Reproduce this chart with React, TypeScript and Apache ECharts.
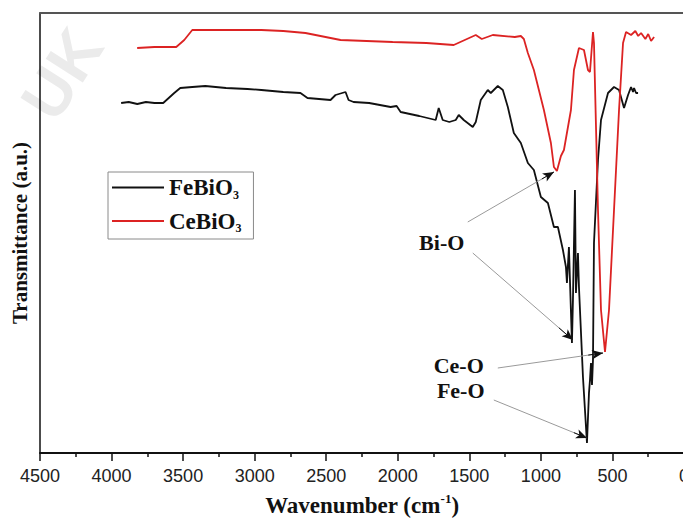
import React, { useEffect, useRef } from "react";
import * as echarts from "echarts";

// Wavenumber (cm-1) and transmittance (a.u.)
const feWavenumber = [3933, 3880, 3820, 3760, 3700, 3639, 3562, 3520, 3436, 3345, 3200, 3050, 2953, 2800, 2680, 2631, 2470, 2435, 2365, 2344, 2309, 2200, 2050, 2008, 1980, 1850, 1735, 1714, 1686, 1640, 1595, 1574, 1539, 1476, 1455, 1420, 1371, 1350, 1301, 1266, 1231, 1189, 1140, 1091, 1049, 1000, 951, 909, 881, 846, 825, 818, 804, 797, 783, 776, 762, 755, 741, 734, 706, 678, 664, 657, 650, 643, 636, 629, 601, 580, 531, 489, 454, 419, 391, 370, 356, 349, 335, 321];
const feTransmittance = [350, 351, 349, 351, 350, 350, 360, 365, 366, 367, 365, 364, 363, 361, 360, 355, 353, 358, 361, 353, 351, 350, 346, 347, 341, 337, 333, 345, 333, 331, 333, 338, 333, 326, 331, 353, 363, 360, 367, 363, 346, 320, 310, 290, 283, 256, 250, 226, 226, 203, 186, 170, 206, 173, 110, 153, 263, 160, 200, 166, 76, 10, 60, 73, 90, 68, 93, 210, 293, 333, 360, 366, 363, 345, 358, 366, 361, 365, 360, 360];

const ceWavenumber = [3821, 3700, 3548, 3492, 3436, 3200, 2953, 2800, 2645, 2400, 2036, 1800, 1609, 1455, 1413, 1336, 1182, 1140, 1119, 1091, 1049, 979, 930, 909, 888, 860, 839, 790, 769, 734, 699, 671, 657, 636, 629, 601, 580, 552, 524, 489, 454, 426, 405, 370, 340, 320, 300, 270, 250, 230, 209];
const ceTransmittance = [405, 406, 406, 413, 423, 423, 423, 422, 420, 413, 411, 410, 408, 418, 414, 418, 416, 417, 414, 400, 383, 343, 310, 286, 282, 297, 303, 343, 383, 405, 403, 383, 381, 421, 410, 243, 143, 101, 143, 243, 343, 410, 421, 418, 422, 417, 420, 414, 419, 412, 416];

const xTicks = { min: 0, max: 4500, interval: 500 };

// Annotations: label, label position, arrow start, arrow tip (wavenumber, a.u.)
const annotLabels = ["Bi-O", "Ce-O", "Fe-O"];
const annotLabelAt = [[1693, 211], [1574, 88], [1560, 63]];
const arrowFrom = [[1511, 231], [1476, 200], [1301, 85], [1329, 53]];
const arrowTo = [[909, 281], [776, 113], [566, 100], [678, 15]];

const SERIF = "'Liberation Serif', 'DejaVu Serif', serif";
const SANS = "'Liberation Sans', Arial, sans-serif";

export default function App() {
  const ref = useRef<HTMLDivElement>(null);
  useEffect(() => {
    if (!ref.current) return;
    const chart = echarts.init(ref.current, undefined, { renderer: "svg" });
    const zip = (xs: number[], ys: number[]) => xs.map((x, i) => [x, ys[i]]);

    const markData: any[] = [];
    arrowFrom.forEach((f, i) => {
      const t = arrowTo[i];
      const k = 0.86;
      const mid = [f[0] + (t[0] - f[0]) * k, f[1] + (t[1] - f[1]) * k];
      markData.push([
        { coord: f, symbol: "none", lineStyle: { color: "#9a9a9a", width: 1, type: "solid" } },
        { coord: t, symbol: "none" },
      ]);
      markData.push([
        { coord: mid, symbol: "none", lineStyle: { color: "#111", width: 1, type: "solid" } },
        { coord: t, symbol: "arrow", symbolSize: [7, 11] },
      ]);
    });

    chart.setOption({
      animation: false,
      backgroundColor: "#fff",
      grid: { left: 40, width: 644, top: 13, bottom: 65, outerBoundsMode: "none", containLabel: false },
      graphic: [
        {
          type: "text",
          x: 62,
          y: 74,
          rotation: 1.0,
          style: {
            text: "UK",
            font: `bold 64px ${SANS}`,
            fill: "#ebebeb",
            align: "center",
            verticalAlign: "middle",
          },
          z: -10,
        },
      ],
      legend: {
        data: [
          { name: "FeBiO3", icon: "rect" },
          { name: "CeBiO3", icon: "rect" },
        ],
        orient: "vertical",
        left: 108,
        top: 172,
        padding: [4, 12, 5, 4],
        itemGap: 9,
        itemWidth: 52,
        itemHeight: 2,
        borderColor: "#8a8a8a",
        borderWidth: 1,
        formatter: (name: string) => `{a|${name.slice(0, -1)}}{s|${name.slice(-1)}}`,
        textStyle: {
          rich: {
            a: { fontFamily: SERIF, fontWeight: "bold", fontSize: 23, color: "#111", lineHeight: 26 },
            s: { fontFamily: SERIF, fontWeight: "bold", fontSize: 12, color: "#111", lineHeight: 4, verticalAlign: "bottom" },
          },
        },
      },
      xAxis: [
        {
          type: "value",
          inverse: true,
          min: xTicks.min,
          max: xTicks.max,
          interval: xTicks.interval,
          axisLine: { show: true, onZero: false, lineStyle: { color: "#111", width: 2 } },
          axisTick: { show: true, inside: false, length: 8, lineStyle: { color: "#111", width: 1.5 } },
          minorTick: { show: true, splitNumber: 2, length: 4, lineStyle: { color: "#111", width: 1.5 } },
          axisLabel: {
            fontFamily: SANS,
            fontSize: 18,
            color: "#222",
            margin: 14,
            formatter: (v: number) => String(v),
          },
          splitLine: { show: false },
          name: "{n|Wavenumber (cm}{p|-1}{n|)}",
          nameLocation: "middle",
          nameGap: 39,
          nameTextStyle: {
            rich: {
              n: { fontFamily: SERIF, fontWeight: "bold", fontSize: 23, color: "#111", lineHeight: 26 },
              p: { fontFamily: SERIF, fontWeight: "bold", fontSize: 13, color: "#111", lineHeight: 12, verticalAlign: "top" },
            },
          },
        },
        {
          type: "value",
          position: "top",
          inverse: true,
          min: xTicks.min,
          max: xTicks.max,
          axisLine: { show: true, onZero: false, lineStyle: { color: "#555", width: 2 } },
          axisTick: { show: false },
          axisLabel: { show: false },
          splitLine: { show: false },
        },
      ],
      yAxis: {
        type: "value",
        min: 0,
        max: 440,
        axisLine: { show: true, onZero: false, lineStyle: { color: "#111", width: 1.5 } },
        axisTick: { show: false },
        axisLabel: { show: false },
        splitLine: { show: false },
        name: "Transmittance (a.u.)",
        nameLocation: "middle",
        nameGap: 10,
        nameTextStyle: { fontFamily: SERIF, fontWeight: "bold", fontSize: 21, color: "#111" },
      },
      series: [
        {
          name: "FeBiO3",
          type: "line",
          data: zip(feWavenumber, feTransmittance),
          showSymbol: false,
          symbol: "none",
          color: "#111",
          lineStyle: { color: "#111", width: 1.8 },
          silent: true,
        },
        {
          name: "CeBiO3",
          type: "line",
          data: zip(ceWavenumber, ceTransmittance),
          showSymbol: false,
          symbol: "none",
          color: "#dc2323",
          lineStyle: { color: "#dc2323", width: 1.8 },
          silent: true,
        },
        {
          name: "annotations",
          type: "scatter",
          symbolSize: 0,
          silent: true,
          itemStyle: { color: "#111" },
          data: annotLabels.map((l, i) => ({ name: l, value: annotLabelAt[i] })),
          label: {
            show: true,
            position: "inside",
            formatter: (p: any) => p.name,
            fontFamily: SERIF,
            fontWeight: "bold",
            fontSize: 22,
            color: "#111",
            textBorderWidth: 0,
            opacity: 1,
          },
          markLine: {
            silent: true,
            animation: false,
            symbol: ["none", "none"],
            label: { show: false },
            emphasis: { disabled: true },
            data: markData,
          },
        },
      ],
    });
    return () => chart.dispose();
  }, []);
  return (
    <div
      ref={ref}
      style={{ position: "fixed", left: 0, top: 0, width: 683, height: 518, background: "#fff" }}
    />
  );
}
